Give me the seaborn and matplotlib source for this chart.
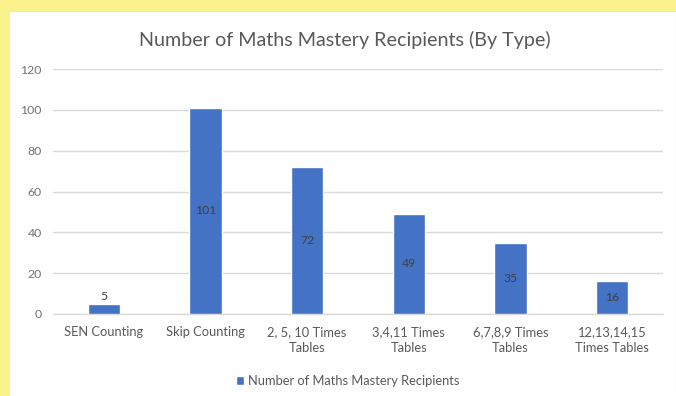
import matplotlib
matplotlib.use("Agg")
import matplotlib.pyplot as plt
import seaborn as sns
import pandas as pd
from matplotlib.patches import Rectangle, Patch

categories = ["SEN Counting", "Skip Counting", "2, 5, 10 Times\nTables",
              "3,4,11 Times\nTables", "6,7,8,9 Times\nTables", "12,13,14,15\nTimes Tables"]
values = [5, 101, 72, 49, 35, 16]
series_name = "Number of Maths Mastery Recipients"
title = "Number of Maths Mastery Recipients (By Type)"
yticks = [0, 20, 40, 60, 80, 100, 120]

sns.set_theme(style="white")
plt.rcParams['font.family'] = ['Lato', 'DejaVu Sans']

W, H = 676, 396
fig = plt.figure(figsize=(W / 100, H / 100), dpi=100)
fig.patch.set_facecolor("#FAF38C")
fig.patches.append(Rectangle((9 / W, 0), 1 - 9 / W, 1 - 11 / H, transform=fig.transFigure,
                             facecolor="white", edgecolor="#E6E6E6", lw=0.8, zorder=-5))

left, right, y0, y120 = 53, 663, 314, 69
ax = fig.add_axes([left / W, (H - y0) / H, (right - left) / W, (y0 - y120) / H])
ax.set_zorder(2)
ax.set_facecolor("none")

df = pd.DataFrame({"cat": categories, "val": values})
bar_color = "#4472C4"
sns.barplot(data=df, x="cat", y="val", color=bar_color, width=0.32, saturation=1, ax=ax, zorder=3)

ax.set_ylim(0, 120)
ax.set_xlim(-0.5, len(categories) - 0.5)
ax.set_yticks(yticks)
ax.yaxis.grid(True, color="#D9D9D9", lw=1)
ax.set_axisbelow(True)
for s in ["top", "right", "left"]:
    ax.spines[s].set_visible(False)
ax.spines["bottom"].set_color("#D9D9D9")
ax.spines["bottom"].set_linewidth(1)
fs = 9.3
ax.tick_params(axis="x", length=0, colors="#595959", labelsize=fs, pad=9)
ax.tick_params(axis="y", length=0, colors="#707070", labelsize=fs - 0.5, pad=8)
for lbl in ax.get_xticklabels():
    lbl.set_linespacing(1.3)
ax.set_xlabel("")
ax.set_ylabel("")

for i, v in enumerate(values):
    y = v / 2 if v >= 10 else v + 3.5
    ax.text(i, y, str(v), ha="center", va="center", color="#404040", fontsize=fs - 0.5, zorder=4)

fig.text(345 / W, 1 - 40 / H, title, ha="center", va="center", color="#595959", fontsize=14.2)

leg = fig.legend(handles=[Patch(facecolor=bar_color, label=series_name)],
                 loc="center", bbox_to_anchor=(348 / W, 1 - 381 / H), frameon=False,
                 fontsize=fs, handlelength=0.6, handleheight=0.6, handletextpad=0.3)
for t in leg.get_texts():
    t.set_color("#595959")

fig.savefig("out.png", dpi=100, facecolor=fig.get_facecolor())
